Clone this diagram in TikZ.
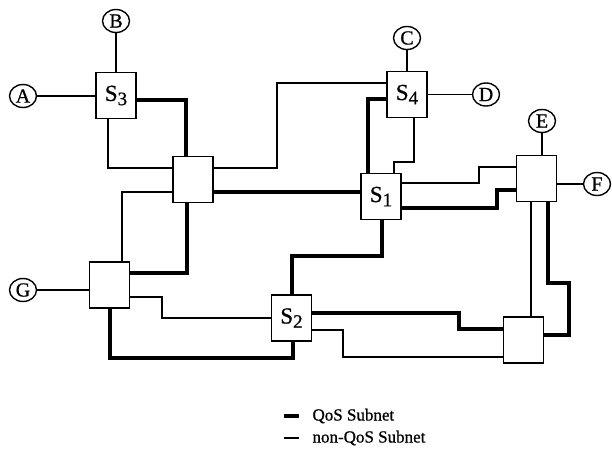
\documentclass[tikz,border=0pt]{standalone}
\usepackage{fontspec}
\setmainfont{Liberation Serif}
\newfontfamily\heavy{Liberation Serif}[FakeBold=0.8]
\usetikzlibrary{shapes.geometric}
\newcommand\Slab[1]{S\raisebox{-0.4ex}{\fontsize{19}{19}\selectfont #1}}
\begin{document}
\begin{tikzpicture}[x=1pt,y=-1pt,
  box/.style={draw, line width=1.3pt, minimum width=40pt, minimum height=46pt, inner sep=0pt, font=\heavy\fontsize{23}{25}\selectfont},
  host/.style={draw, ellipse, line width=1.4pt, minimum width=27pt, minimum height=23pt, inner sep=0pt, font=\heavy\fontsize{20}{22}\selectfont},
  qos/.style={line width=3.2pt},
  nonqos/.style={line width=1.2pt},
  access/.style={line width=1.3pt},
  lbl/.style={anchor=west, font=\heavy\fontsize{17}{19}\selectfont}]
\useasboundingbox (0,0) rectangle (612,464);

% switches / routers
\node[box] (S3) at (116,95.5) {\Slab{3}};
\node[box] (S4) at (407,94.5) {\Slab{4}};
\node[box] (N1) at (193,179.5) {};
\node[box] (S1) at (381,196.5) {\Slab{1}};
\node[box] (N3) at (536.5,178.5) {};
\node[box] (N2) at (109.5,285) {};
\node[box] (S2) at (291.5,318) {\Slab{2}};
\node[box] (N4) at (523.5,340) {};

% hosts
\node[host] (A) at (23,96) {A};
\node[host] (B) at (116,21) {B};
\node[host] (C) at (407,38) {C};
\node[host] (D) at (486,94.5) {D};
\node[host] (E) at (542,121) {E};
\node[host] (F) at (597,184) {F};
\node[host] (G) at (23,290) {G};

% access links
\draw[access] (A) -- (S3.west |- A.east);
\draw[access] (B) -- (S3.north -| B.south);
\draw[access] (C) -- (S4.north -| C.south);
\draw[access] (D) -- (S4.east |- D.west);
\draw[access] (E) -- (N3.north -| E.south);
\draw[access] (F) -- (N3.east |- F.west);
\draw[access] (G) -- (N2.west |- G.east);

% QoS subnet (thick)
\draw[qos] (S3.east |- 0,100) -| (N1.north -| 186,0);
\draw[qos] (N1.east |- 0,192) -- (S1.west |- 0,192);
\draw[qos] (S4.west |- 0,99) -| (S1.north -| 368,0);
\draw[qos] (S1.east |- 0,208) -- (497,208) |- (N3.west |- 0,190);
\draw[qos] (S1.south -| 382,0) |- (292,256) -- (S2.north -| 292,0);
\draw[qos] (N1.south -| 187,0) |- (N2.east |- 0,273);
\draw[qos] (N2.south -| 110,0) |- (293,358) -- (S2.south -| 293,0);
\draw[qos] (S2.east |- 0,313) -- (459,313) |- (N4.west |- 0,329);
\draw[qos] (N3.south -| 548,0) |- (569,283) |- (N4.east |- 0,335);

% non-QoS subnet (thin)
\draw[nonqos] (S3.south -| 108,0) |- (N1.west |- 0,168);
\draw[nonqos] (N1.east |- 0,168) -| (277,83) -- (S4.west |- 0,83);
\draw[nonqos] (N1.west |- 0,192) -| (N2.north -| 122,0);
\draw[nonqos] (S4.south -| 414,0) |- (394,162) -- (S1.north -| 394,0);
\draw[nonqos] (S1.east |- 0,183) -- (479,183) |- (N3.west |- 0,167);
\draw[nonqos] (N3.south -| 531,0) -- (N4.north -| 531,0);
\draw[nonqos] (N2.east |- 0,297) -| (162,318) -- (S2.west |- 0,318);
\draw[nonqos] (S2.east |- 0,330) -| (343,357) -- (N4.west |- 0,357);

% legend
\coordinate (l1a) at (284,416);
\coordinate (l1b) at (299,416);
\coordinate (l2a) at (284,438);
\coordinate (l2b) at (299,438);
\draw[qos] (l1a) -- (l1b);
\draw[nonqos] (l2a) -- (l2b);
\node[lbl] (t1) at (309,416) {QoS Subnet};
\node[lbl] (t2) at (309,438) {non-QoS Subnet};
\end{tikzpicture}
\end{document}
